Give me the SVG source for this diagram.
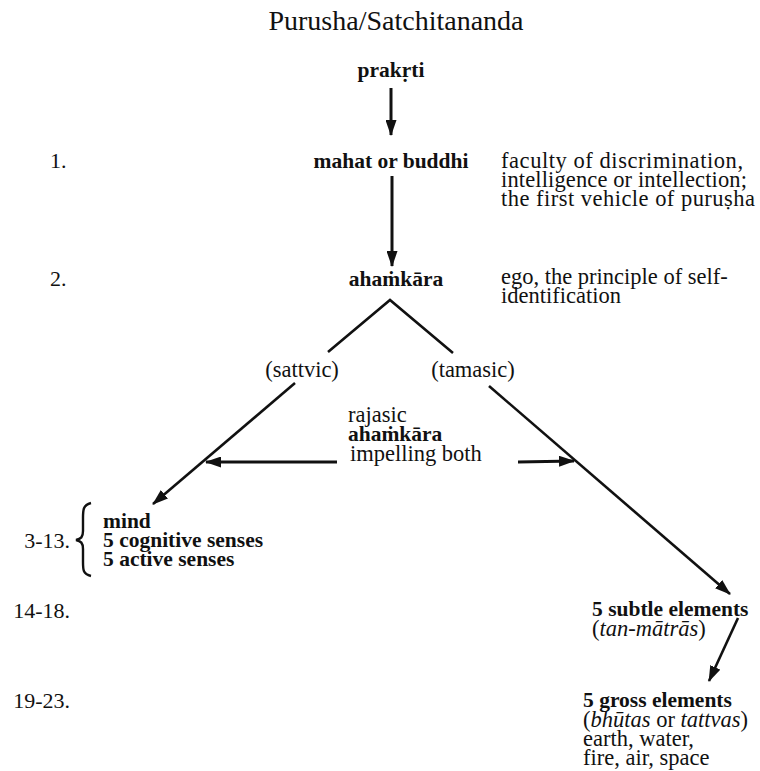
<svg xmlns="http://www.w3.org/2000/svg" width="760" height="771" viewBox="0 0 760 771">
<style>
.t{font-family:"Liberation Serif","Times New Roman",serif;fill:#111}
.title{font-size:28px}
.b{font-size:21.5px;font-weight:bold}
.r{font-size:22.5px}
.n{font-size:22px}
.c{text-anchor:middle}
.e{text-anchor:end}
.i{font-style:italic}
.ln{stroke:#111;stroke-width:2.6;fill:none}
.sh{stroke:#111;stroke-width:3;fill:none}
</style>
<defs>
<marker id="ah" markerUnits="userSpaceOnUse" markerWidth="16" markerHeight="11" refX="15" refY="5.5" orient="auto">
<path d="M0,0 L16,5.5 L0,11 z" fill="#111"/>
</marker>
</defs>
<rect width="760" height="771" fill="#fff"/>
<text class="t title c" x="396" y="30">Purusha/Satchitananda</text>

<g id="prakrti"><text class="t b c" x="391" y="77">prakṛti</text></g>
<g id="mahat">
<text class="t n" x="50" y="168">1.</text>
<text class="t b c" x="391" y="168">mahat or buddhi</text>
<text class="t r" x="501" y="168" textLength="242">faculty of discrimination,</text>
<text class="t r" x="501" y="187" textLength="246">intelligence or intellection;</text>
<text class="t r" x="501" y="206" textLength="254">the first vehicle of puruṣha</text>
</g>
<g id="ahamkara">
<text class="t n" x="50" y="286">2.</text>
<text class="t b c" x="396" y="286">ahaṁkāra</text>
<text class="t r" x="501" y="284">ego, the principle of self-</text>
<text class="t r" x="501" y="303">identification</text>
</g>
<g id="sattvic"><text class="t r c" x="302" y="377">(sattvic)</text></g>
<g id="tamasic"><text class="t r c" x="473" y="377">(tamasic)</text></g>
<g id="rajasic">
<text class="t r" x="348" y="422">rajasic</text>
<text class="t b" x="348" y="441">ahaṁkāra</text>
<text class="t r" x="350" y="461">impelling both</text>
</g>
<g id="senses">
<text class="t n e" x="70" y="548">3-13.</text>
<path d="M91,503 C83,505 83,510 83,518 L83,531 C83,537 81,539 76,540 C81,541 83,543 83,549 L83,562 C83,570 83,574 91,576" stroke="#111" stroke-width="2.4" fill="none"/>
<text class="t b" x="103" y="528">mind</text>
<text class="t b" x="103" y="547">5 cognitive senses</text>
<text class="t b" x="103" y="566">5 active senses</text>
</g>
<g id="subtle">
<text class="t n e" x="70" y="618">14-18.</text>
<text class="t b" x="592" y="616">5 subtle elements</text>
<text class="t r" x="592" y="636">(<tspan class="i">tan-mātrās</tspan>)</text>
</g>
<g id="gross">
<text class="t n e" x="70" y="708">19-23.</text>
<text class="t b" x="583" y="707">5 gross elements</text>
<text class="t r" x="583" y="727">(<tspan class="i">bhūtas</tspan> or <tspan class="i">tattvas</tspan>)</text>
<text class="t r" x="583" y="746">earth, water,</text>
<text class="t r" x="583" y="765">fire, air, space</text>
</g>

<g id="connectors">
<line class="sh" x1="391" y1="88" x2="391" y2="135" marker-end="url(#ah)"/>
<line class="sh" x1="392" y1="176" x2="392" y2="266" marker-end="url(#ah)"/>
<polyline class="ln" points="328,352 390,300 453,353"/>
<line class="ln" x1="295" y1="383" x2="153" y2="504" marker-end="url(#ah)"/>
<line class="ln" x1="489" y1="386" x2="730" y2="594" marker-end="url(#ah)"/>
<line class="sh" x1="337" y1="462" x2="206" y2="462" marker-end="url(#ah)"/>
<line class="sh" x1="518" y1="462" x2="574" y2="461" marker-end="url(#ah)"/>
<line class="ln" x1="738" y1="618" x2="709" y2="681" marker-end="url(#ah)"/>
</g>
</svg>
